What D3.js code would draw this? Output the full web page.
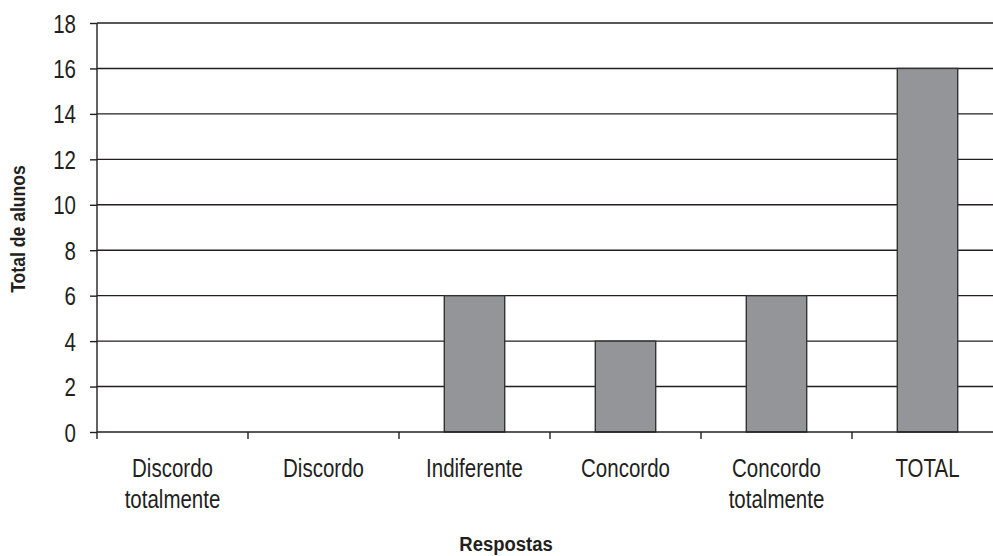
<!DOCTYPE html>
<html>
<head>
<meta charset="utf-8">
<script src="https://cdn.jsdelivr.net/npm/d3@7"></script>
<style>
  html, body { margin: 0; padding: 0; background: #fff; }
  svg { display: block; }
  text { font-family: "Liberation Sans", Arial, Helvetica, sans-serif; fill: #231f20; }
</style>
</head>
<body>
<svg id="chart" width="993" height="556"></svg>
<script>
// Survey answers (x categories, two-line labels) and student counts
const categories = ["Discordo totalmente", "Discordo", "Indiferente", "Concordo", "Concordo totalmente", "TOTAL"];
const categoryLines = [["Discordo", "totalmente"], ["Discordo"], ["Indiferente"], ["Concordo"], ["Concordo", "totalmente"], ["TOTAL"]];
const values = [0, 0, 6, 4, 6, 16];
const yTicks = [0, 2, 4, 6, 8, 10, 12, 14, 16, 18];
const xTitle = "Respostas";
const yTitle = "Total de alunos";

(function draw() {
  const svg = d3.select("#chart");
  const plotLeft = 97, plotRight = 1003, plotTop = 23, plotBottom = 432;
  const ink = "#231f20";
  const narrow = 0.82; // horizontal squeeze for a condensed typeface look

  const x = d3.scaleBand()
    .domain(categories)
    .range([plotLeft, plotRight])
    .paddingInner(0.6)
    .paddingOuter(0.3);

  const y = d3.scaleLinear().domain([0, 18]).range([plotBottom, plotTop]);

  // Horizontal gridlines
  svg.append("g")
    .selectAll("line")
    .data(yTicks.filter(d => d > 0))
    .join("line")
    .attr("x1", plotLeft).attr("x2", plotRight)
    .attr("y1", d => y(d)).attr("y2", d => y(d))
    .attr("stroke", ink).attr("stroke-width", 1.4);

  // Bars
  svg.append("g")
    .selectAll("rect")
    .data(categories.map((c, i) => ({ c, v: values[i] })).filter(d => d.v > 0))
    .join("rect")
    .attr("x", d => x(d.c))
    .attr("y", d => y(d.v))
    .attr("width", x.bandwidth())
    .attr("height", d => y(0) - y(d.v))
    .attr("fill", "#949599")
    .attr("stroke", "#333333")
    .attr("stroke-width", 1.4);

  // Y axis
  const yAxis = d3.axisLeft(y)
    .tickValues(yTicks)
    .tickSize(7)
    .tickPadding(9)
    .tickFormat(d3.format("d"));
  const gy = svg.append("g").attr("transform", `translate(${plotLeft},0)`).call(yAxis);
  gy.attr("font-family", null).attr("font-size", null);
  gy.select(".domain").attr("stroke", ink).attr("stroke-width", 1.4).attr("d", `M0,${plotTop}V${plotBottom}`);
  gy.selectAll(".tick line").attr("stroke", ink).attr("stroke-width", 1.4);
  gy.selectAll(".tick text")
    .attr("x", 0)
    .attr("dy", "0.36em")
    .attr("transform", `translate(-21,0) scale(${narrow},1)`)
    .attr("font-size", 25)
    .attr("fill", ink);

  // X axis baseline and category separator ticks
  svg.append("line")
    .attr("x1", plotLeft).attr("x2", plotRight)
    .attr("y1", plotBottom).attr("y2", plotBottom)
    .attr("stroke", ink).attr("stroke-width", 1.4);

  const step = x.step();
  svg.append("g")
    .selectAll("line")
    .data(d3.range(categories.length + 1))
    .join("line")
    .attr("x1", i => plotLeft + i * step).attr("x2", i => plotLeft + i * step)
    .attr("y1", plotBottom).attr("y2", plotBottom + 7)
    .attr("stroke", ink).attr("stroke-width", 1.4);

  // Category labels
  const labels = svg.append("g")
    .selectAll("text")
    .data(categories)
    .join("text")
    .attr("text-anchor", "middle")
    .attr("font-size", 25)
    .attr("transform", d => `translate(${x(d) + x.bandwidth() / 2},477) scale(${narrow},1)`);
  labels.selectAll("tspan")
    .data((d, i) => categoryLines[i])
    .join("tspan")
    .attr("x", 0)
    .attr("dy", (d, i) => i === 0 ? 0 : 31)
    .text(d => d);

  // Axis titles
  svg.append("text")
    .attr("transform", "translate(506,551) scale(0.88,1)")
    .attr("text-anchor", "middle")
    .attr("font-weight", "bold")
    .attr("font-size", 21)
    .text(xTitle);

  svg.append("text")
    .attr("transform", "translate(25,229) rotate(-90) scale(0.88,1)")
    .attr("text-anchor", "middle")
    .attr("font-weight", "bold")
    .attr("font-size", 20)
    .text(yTitle);
})();
</script>
</body>
</html>
